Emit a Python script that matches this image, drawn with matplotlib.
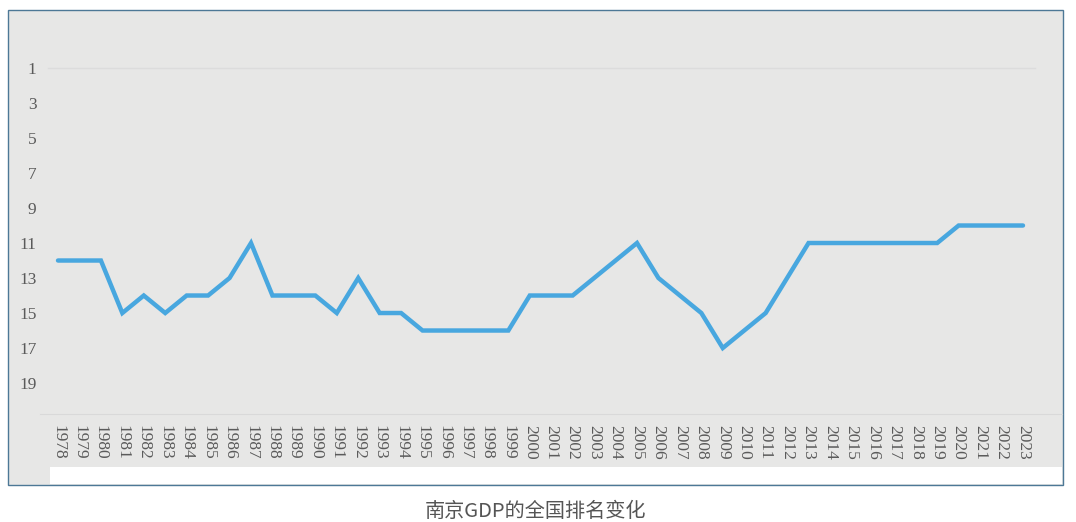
import matplotlib.pyplot as plt
from matplotlib.patches import Rectangle

years = list(range(1978, 2024))
rank = [12, 12, 12, 15, 14, 15, 14, 14, 13, 11,
        14, 14, 14, 15, 13, 15, 15, 16, 16, 16,
        16, 16, 14, 14, 14, 13, 12, 11, 13, 14,
        15, 17, 16, 15, 13, 11, 11, 11, 11, 11,
        11, 11, 10, 10, 10, 10]
y_ticks = [1, 3, 5, 7, 9, 11, 13, 15, 17, 19]
caption = "南京GDP的全国排名变化"

W, H = 1076, 522


def main():
    fig = plt.figure(figsize=(W / 100, H / 100), dpi=100)
    fig.patch.set_facecolor("white")

    # framed grey panel with white strip at the bottom
    fig.patches.append(Rectangle((8 / W, 1 - 485 / H), 1055 / W, 475 / H,
                                 transform=fig.transFigure, facecolor="#e7e7e6",
                                 edgecolor="#4d7896", lw=1.0, zorder=0))
    fig.patches.append(Rectangle((50 / W, 1 - 484 / H), 1012 / W, 17 / H,
                                 transform=fig.transFigure, facecolor="white",
                                 edgecolor="none", zorder=0.5))

    ax = fig.add_axes([40 / W, 1 - 414 / H, 1022 / W, (414 - 50.5) / H])
    ax.set_zorder(2)
    ax.set_facecolor("none")
    ax.plot(years, rank, color="#48a7df", lw=3.2, solid_joinstyle="miter",
            solid_capstyle="round")

    ax.set_xlim(1978 - 18 / 21.44, 2023 + 39 / 21.44)
    ax.set_ylim(20.77, 0)
    ax.axhline(y_ticks[0], xmin=8 / 1022, xmax=995 / 1022, color="#dcdcdc", lw=1)

    ax.set_xticks(years)
    ax.set_xticklabels([str(y) for y in years], rotation=270)
    ax.set_yticks(y_ticks)
    for s in ["top", "left", "right"]:
        ax.spines[s].set_visible(False)
    ax.spines["bottom"].set_color("#d9d9d9")
    ax.tick_params(axis="both", length=0, labelsize=12.5, labelcolor="#5a5a5a")
    ax.tick_params(axis="x", pad=8)
    ax.tick_params(axis="y", pad=2.5)
    for lab in ax.get_xticklabels() + ax.get_yticklabels():
        lab.set_family("Liberation Serif")

    fig.text(536 / W, 1 - 511 / H, caption, ha="center", va="center",
             fontsize=14.5, color="#555555",
             family=["Noto Sans CJK SC", "DejaVu Sans"])

    fig.savefig("out.png", dpi=100)


if __name__ == "__main__":
    main()
